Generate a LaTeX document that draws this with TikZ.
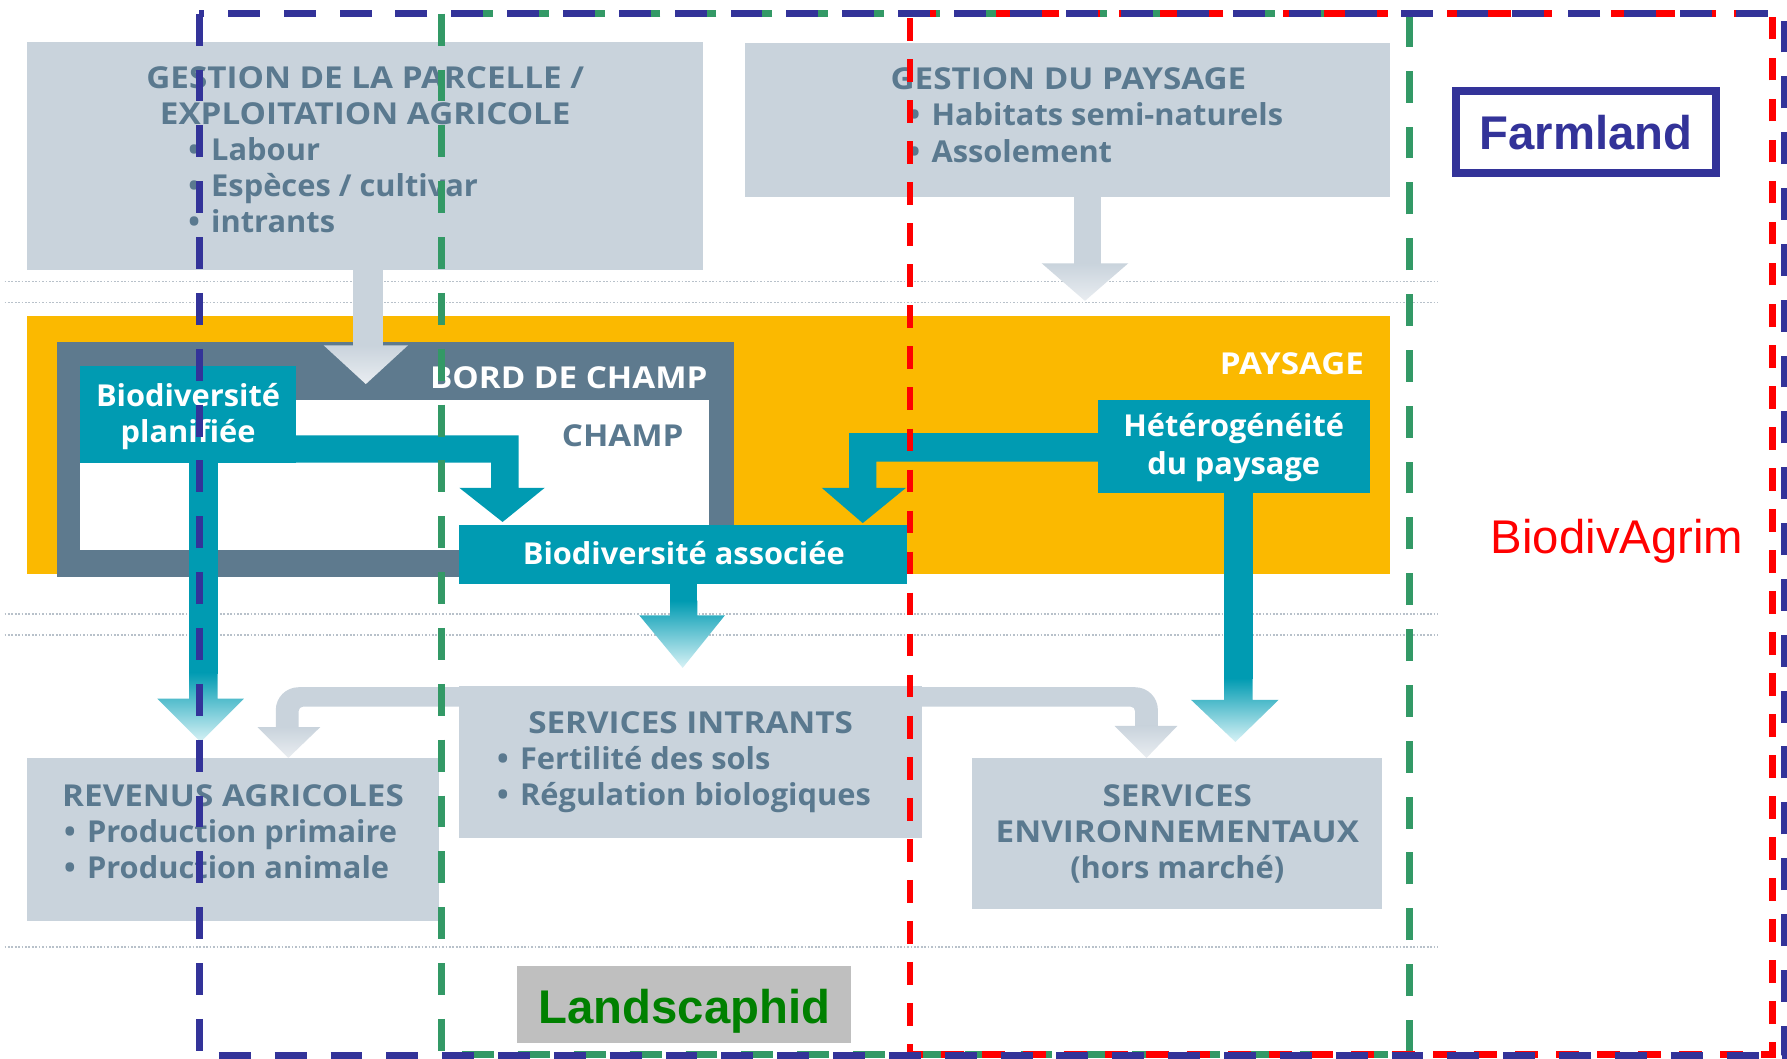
\documentclass[tikz,border=0pt]{standalone}
\usepackage{fontspec}
\setmainfont{Open Sans}[FakeStretch=1.02]
\newfontfamily\capsf{Open Sans}[FakeStretch=1.10]
\newfontfamily\arialf{Liberation Sans}
\usetikzlibrary{fit}
\definecolor{boxgray}{HTML}{C9D3DC}
\definecolor{graylight}{HTML}{E9EDF1}
\definecolor{slate}{HTML}{5A798F}
\definecolor{tealc}{HTML}{009BB2}
\definecolor{teallight}{HTML}{D8F2F6}
\definecolor{amber}{HTML}{FBB900}
\definecolor{framec}{HTML}{5E7A8E}
\definecolor{pptblue}{HTML}{333399}
\definecolor{pptgreen}{HTML}{339966}
\definecolor{landgray}{HTML}{BFBFBF}
\definecolor{landgreen}{HTML}{008000}
\definecolor{dotc}{HTML}{B8C1CA}
\newcommand\gfont{\fontsize{26.5}{31}\selectfont\bfseries}
\newcommand\gcapfont{\capsf\fontsize{26.5}{31}\selectfont\bfseries}
\newcommand\bigfont{\fontsize{41.5}{45}\selectfont}
\newcommand\bul{\textbullet\hspace{10pt}}
\tikzset{
  gbox/.style={fill=boxgray, draw=none, inner sep=0pt},
  tbox/.style={fill=tealc, draw=none, inner sep=0pt},
  gt/.style={font=\gfont, text=slate, inner sep=0pt},
  wt/.style={font=\gfont, text=white, inner sep=0pt},
  gtc/.style={font=\gcapfont, text=slate, inner sep=0pt},
  wtc/.style={font=\gcapfont, text=white, inner sep=0pt},
  dotline/.style={draw=dotc, line width=1.5pt, dash pattern=on 1.5pt off 1.5pt},
  zone/.style={line width=6pt, dash pattern=on 28pt off 21pt}
}
\begin{document}
\begin{tikzpicture}[x=1pt,y=-1pt]
\useasboundingbox (0,0) rectangle (1568,929);
\fill[white] (0,0) rectangle (1568,929);

% dotted guide lines
\foreach \yy in {247,265.5,539,557,831} \draw[dotline] (4,\yy) -- (1262,\yy);

% top boxes
\node[gbox, fit={(24,37) (617,237)}] (parcelle) {};
\node[gbox, fit={(654,38) (1220,173)}] (gpaysage) {};

% landscape / field border / field
\node[fill=amber, inner sep=0pt, fit={(24,277) (1220,504)}] (paysage) {};
\node[fill=framec, inner sep=0pt, fit={(50,300) (644,506)}] (bord) {};
\node[fill=white, inner sep=0pt, fit={(70,351) (622,483)}] (champ) {};

% gray arrows from top boxes
\fill[boxgray] (310,236) rectangle (336,304);
\shade[top color=boxgray, bottom color=graylight] (284,303) -- (358,303) -- (321,337) -- cycle;
\fill[boxgray] (942,172) rectangle (966,232);
\shade[top color=boxgray, bottom color=graylight] (914,231) -- (990,231) -- (952,264) -- cycle;

% teal boxes
\node[tbox, fit={(70,321) (260,406)}] (planif) {};
\node[tbox, fit={(403,461) (796,512)}] (assoc) {};
\node[tbox, fit={(963,351) (1202,433)}] (hetero) {};

% teal connectors
\fill[tealc] (259,382) -- (455,382) -- (455,428) -- (478,428) -- (441,458) -- (403,428) -- (431,428) -- (431,406) -- (259,406) -- cycle;
\fill[tealc] (964,380) -- (745,380) -- (745,428) -- (721,428) -- (757,459) -- (795,428) -- (769,428) -- (769,405) -- (964,405) -- cycle;
\fill[tealc] (166,405) rectangle (191,591);
\shade[top color=tealc, bottom color=teallight] (166,590) -- (191,590) -- (191,613) -- (214,613) -- (176,651) -- (138,613) -- (166,613) -- cycle;
\fill[tealc] (1074,432) rectangle (1099,596);
\shade[top color=tealc, bottom color=teallight] (1074,595) -- (1099,595) -- (1099,614) -- (1122,614) -- (1084,651) -- (1045,614) -- (1074,614) -- cycle;
\fill[tealc] (588,511) rectangle (612,528);
\shade[top color=tealc, bottom color=teallight] (588,527) -- (612,527) -- (612,540) -- (636,540) -- (599,586) -- (561,540) -- (588,540) -- cycle;

% bottom boxes
\node[gbox, fit={(24,665) (385,808)}] (revenus) {};
\node[gbox, fit={(403,602) (809,735)}] (intrants) {};
\node[gbox, fit={(853,665) (1213,798)}] (envir) {};

% gray connectors from services intrants
\fill[boxgray] (404,603) -- (262,603) arc[start angle=270, end angle=180, radius=20] -- (242,639) -- (262,639) -- (262,624) arc[start angle=180, end angle=270, radius=4] -- (404,620) -- cycle;
\shade[top color=boxgray, bottom color=graylight] (226,638) -- (281,638) -- (253,665) -- cycle;
\fill[boxgray] (808,603) -- (996,603) arc[start angle=270, end angle=360, radius=20] -- (1016,638) -- (996,638) -- (996,624) arc[start angle=0, end angle=-90, radius=4] -- (808,620) -- cycle;
\shade[top color=boxgray, bottom color=graylight] (978,637) -- (1033,637) -- (1006,665) -- cycle;

% texts in top boxes
\node[gtc, anchor=base] (p1) at (320.5,77.5) {GESTION DE LA PARCELLE /};
\node[gtc, anchor=base] (p2) at (320.5,109) {EXPLOITATION AGRICOLE};
\node[gt, anchor=base west] (p3) at (165,140.5) {\bul Labour};
\node[gt, anchor=base west] (p4) at (165,172.5) {\bul Espèces / cultivar};
\node[gt, anchor=base west] (p5) at (165,204) {\bul intrants};
\node[gtc, anchor=base] (g1) at (937.5,78.5) {GESTION DU PAYSAGE};
\node[gt, anchor=base west] (g2) at (797,110.5) {\bul Habitats semi-naturels};
\node[gt, anchor=base west] (g3) at (797,143) {\bul Assolement};

% texts in landscape part
\node[wtc, anchor=base east] (bordt) at (621,340.5) {BORD DE CHAMP};
\node[gtc, anchor=base east] (champt) at (600,392) {CHAMP};
\node[wtc, anchor=base east] (payt) at (1197,329) {PAYSAGE};
\node[wt, anchor=base] (pl1) at (165,357) {Biodiversité};
\node[wt, anchor=base] (pl2) at (165,388.5) {planifiée};
\node[wt, anchor=base] (as1) at (600,495.5) {Biodiversité associée};
\node[wt, anchor=base] (he1) at (1082.5,383) {Hétérogénéité};
\node[wt, anchor=base] (he2) at (1082.5,416.5) {du paysage};

% texts in bottom boxes
\node[gtc, anchor=base] (r1) at (204.5,708) {REVENUS AGRICOLES};
\node[gt, anchor=base west] (r2) at (56,739) {\bul Production primaire};
\node[gt, anchor=base west] (r3) at (56,770.5) {\bul Production animale};
\node[gtc, anchor=base] (i1) at (606,644) {SERVICES INTRANTS};
\node[gt, anchor=base west] (i2) at (436,675.5) {\bul Fertilité des sols};
\node[gt, anchor=base west] (i3) at (436,707) {\bul Régulation biologiques};
\node[gtc, anchor=base] (e1) at (1033,707.5) {SERVICES};
\node[gtc, anchor=base] (e2) at (1033,739) {ENVIRONNEMENTAUX};
\node[gt, anchor=base] (e3) at (1033,770.5) {(hors marché)};

% project labels
\node[draw=pptblue, line width=7pt, inner sep=0pt, fit={(1277.5,79.5) (1505.5,152)}] (farm) {};
\node[font=\arialf\bfseries\bigfont, text=pptblue, anchor=base, inner sep=0pt] (farmt) at (1391.5,131.5) {Farmland};
\node[fill=landgray, inner sep=0pt, fit={(454,848) (747,915)}] (land) {};
\node[font=\arialf\bfseries\bigfont, text=landgreen, anchor=base, inner sep=0pt] (landt) at (600.5,898) {Landscaphid};
\node[font=\arialf\bigfont, text=red, anchor=base west, inner sep=0pt] (biot) at (1308,486) {BiodivAgrim};

% dashed project zones
\draw[zone, pptgreen] (387.5,12) -- (387.5,925) -- (1236.5,925) -- (1236.5,12) -- cycle;
\draw[line width=6pt, red, dash pattern=on 20pt off 16pt, dash phase=32pt] (798.5,12) -- (798.5,925) -- (1555,925) -- (1555,12) -- cycle;
\draw[zone, pptblue] (175,12) -- (175,926) -- (1566,926) -- (1566,12) -- cycle;
\end{tikzpicture}
\end{document}
